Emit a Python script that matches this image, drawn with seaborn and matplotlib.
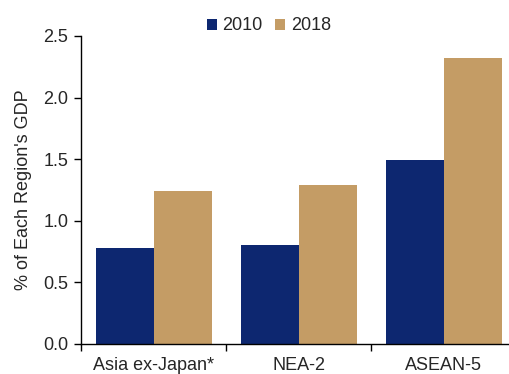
import matplotlib
matplotlib.use("Agg")
import matplotlib.pyplot as plt
import seaborn as sns
import pandas as pd
from matplotlib.ticker import FixedLocator
from matplotlib.patches import Patch

regions = ["Asia ex-Japan*", "NEA-2", "ASEAN-5"]
years = ["2010", "2018"]
values_2010 = [0.78, 0.80, 1.49]
values_2018 = [1.24, 1.29, 2.32]
colors = ["#0D2770", "#C49C65"]

df = pd.DataFrame({
    "Region": regions * 2,
    "Year": [years[0]] * 3 + [years[1]] * 3,
    "Value": values_2010 + values_2018,
})

sns.set_style("white")
plt.rcParams["font.family"] = ["Liberation Sans", "DejaVu Sans"]

fs = 13
fig = plt.figure(figsize=(5.09, 3.74), dpi=100)
ax = fig.add_axes([81 / 509, 30 / 374, 435 / 509, 308 / 374])

sns.barplot(data=df, x="Region", y="Value", hue="Year", palette=colors,
            order=regions, hue_order=years, width=0.8, ax=ax, saturation=1,
            edgecolor="none", linewidth=0, legend=False)

ax.set_xlim(-0.5, 2.5)
ax.set_ylim(0, 2.5)
ax.set_yticks([0, 0.5, 1.0, 1.5, 2.0, 2.5])
ax.set_yticklabels([f"{v:.1f}" for v in [0, 0.5, 1.0, 1.5, 2.0, 2.5]], fontsize=fs)
ax.set_xticks(range(3))
ax.set_xticklabels(regions, fontsize=fs)
ax.xaxis.set_minor_locator(FixedLocator([-0.5, 0.5, 1.5, 2.5]))
ax.tick_params(axis="x", which="major", bottom=True, length=0, pad=9)
ax.tick_params(axis="x", which="minor", bottom=True, length=5, width=1, color="black", direction="out")
ax.tick_params(axis="y", which="major", left=True, length=5, width=1, color="black", direction="out", pad=4)
ax.set_xlabel("")
ax.set_ylabel("% of Each Region's GDP", fontsize=fs, labelpad=8)

for s in ["top", "right"]:
    ax.spines[s].set_visible(False)
for s in ["left", "bottom"]:
    ax.spines[s].set_color("black")
    ax.spines[s].set_linewidth(1)

handles = [Patch(facecolor=c, edgecolor="none", label=y) for c, y in zip(colors, years)]
fig.legend(handles=handles, loc="center", bbox_to_anchor=(269 / 509, 1 - 26 / 374),
           ncol=2, frameon=False, fontsize=fs, handlelength=0.55, handleheight=0.55,
           handletextpad=0.3, columnspacing=0.7)

fig.savefig("out.png", dpi=100)
